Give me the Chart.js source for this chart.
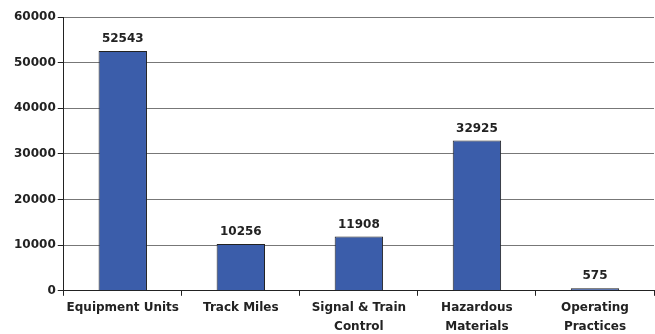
<!DOCTYPE html>
<html>
<head>
<meta charset="utf-8">
<script src="https://cdn.jsdelivr.net/npm/chart.js@4"></script>
<style>
  html, body { margin: 0; padding: 0; background: #fff; }
  #wrap { width: 655px; height: 334px; }
</style>
</head>
<body>
<div id="wrap"><canvas id="c"></canvas></div>
<script>
// categories and values
const categories = [
  'Equipment Units',
  'Track Miles',
  ['Signal & Train', 'Control'],
  ['Hazardous', 'Materials'],
  ['Operating', 'Practices']
];
const counts = [52543, 10256, 11908, 32925, 575];
const yTicks = [0, 10000, 20000, 30000, 40000, 50000, 60000];

const barColor = '#3B5DAA';
const fontFam = '"DejaVu Sans", sans-serif';

// value labels above each bar
const valueLabels = {
  id: 'valueLabels',
  afterDatasetsDraw(chart) {
    const ctx = chart.ctx;
    const meta = chart.getDatasetMeta(0);
    ctx.save();
    ctx.font = 'bold 12px ' + fontFam;
    ctx.fillStyle = '#222';
    ctx.textAlign = 'center';
    ctx.textBaseline = 'bottom';
    meta.data.forEach((bar, i) => {
      ctx.fillText(String(counts[i]), bar.x, bar.y - 6);
    });
    ctx.restore();
  }
};

new Chart(document.getElementById('c'), {
  type: 'bar',
  data: {
    labels: categories,
    datasets: [{
      data: counts,
      backgroundColor: barColor,
      borderColor: '#222',
      borderWidth: 1,
      categoryPercentage: 1,
      barPercentage: 0.41
    }]
  },
  options: {
    responsive: true,
    maintainAspectRatio: false,
    animation: false,
    layout: { padding: { top: 17, right: 1, left: 12, bottom: -5 } },
    plugins: {
      legend: { display: false },
      tooltip: { enabled: false }
    },
    scales: {
      x: {
        grid: {
          offset: true,
          drawOnChartArea: false,
          color: '#222',
          tickLength: 5
        },
        border: { color: '#222', width: 1 },
        ticks: {
          color: '#222',
          font: { family: fontFam, size: 12, weight: 'bold', lineHeight: 1.55 },
          maxRotation: 0,
          autoSkip: false,
          padding: 3
        }
      },
      y: {
        min: 0,
        max: 60000,
        afterBuildTicks(axis) {
          axis.ticks = yTicks.map(v => ({ value: v }));
        },
        grid: {
          color: '#777',
          lineWidth: 1,
          tickLength: 6,
          tickColor: '#222'
        },
        border: { color: '#222', width: 1 },
        ticks: {
          color: '#222',
          font: { family: fontFam, size: 12, weight: 'bold' },
          padding: 2,
          callback: v => String(v)
        }
      }
    }
  },
  plugins: [valueLabels]
});
</script>
</body>
</html>
